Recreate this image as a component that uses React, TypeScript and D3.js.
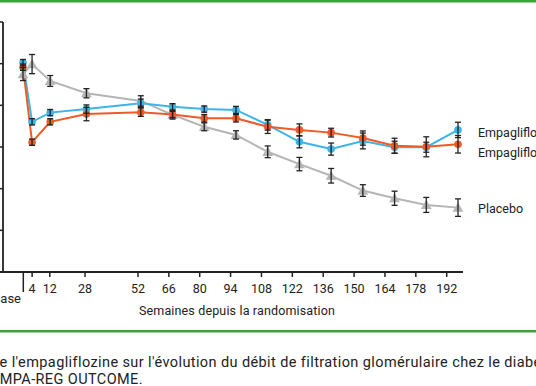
import React from 'react';
import * as d3 from 'd3';

// semaines depuis la randomisation (0 = base)
const weeks = [0, 4, 12, 28, 52, 66, 80, 94, 108, 122, 136, 150, 164, 178, 192];
const tickWeeks = [4, 12, 28, 52, 66, 80, 94, 108, 122, 136, 150, 164, 178, 192];
const yTicks = [66, 68, 70, 72, 74, 76, 78];

// DFG moyen
const empa10 = [76.05, 73.21, 73.65, 73.82, 74.1, 73.93, 73.82, 73.78, 73.06, 72.25, 71.9, 72.29, 71.99, 71.99, 72.82];
const empa10Err = [0.15, 0.15, 0.15, 0.2, 0.2, 0.15, 0.15, 0.17, 0.25, 0.29, 0.29, 0.38, 0.29, 0.24, 0.37];
const empa25 = [75.83, 72.23, 73.21, 73.58, 73.67, 73.56, 73.38, 73.38, 72.97, 72.82, 72.69, 72.43, 72.06, 72.01, 72.13];
const empa25Err = [0.15, 0.15, 0.15, 0.32, 0.2, 0.15, 0.18, 0.18, 0.32, 0.29, 0.21, 0.34, 0.36, 0.48, 0.42];
const placebo = [75.5, 75.98, 75.17, 74.58, 74.21, 73.54, 72.97, 72.58, 71.77, 71.18, 70.62, 69.91, 69.54, 69.22, 69.09];
const placeboErr = [0.31, 0.46, 0.26, 0.22, 0.25, 0.2, 0.19, 0.2, 0.28, 0.32, 0.35, 0.28, 0.34, 0.36, 0.42];

const FONT = 'Roboto, "Noto Sans", sans-serif';
const GREEN = '#3aa53a';

const series = [
  { name: 'Placebo', values: placebo, err: placeboErr, color: '#b5b5b5', shape: 'tri' },
  { name: 'Empagliflozine 10 mg', values: empa10, err: empa10Err, color: '#3db5e8', shape: 'dot' },
  { name: 'Empagliflozine 25 mg', values: empa25, err: empa25Err, color: '#f05a28', shape: 'dot' },
];

const legend = [
  { label: 'Empagliflozine 10 mg', y: 137 },
  { label: 'Empagliflozine 25 mg', y: 157 },
  { label: 'Placebo', y: 213 },
];

export default function App() {
  const width = 536;
  const height = 386;

  // les points sont un peu décalés par rapport aux graduations dans l'original
  const x = d3.scaleLinear().domain([0, 192]).range([23, 458]);
  const xAxis = d3.scaleLinear().domain([0, 192]).range([23.3, 446.7]);
  const y = d3.scaleLinear().domain([66, 78]).range([272, 22]);

  const line = d3.line<number>().x((d, i) => x(weeks[i])).y(d => y(d));
  const tri = d3.symbol().type(d3.symbolTriangle).size(50)();

  return (
    <svg width={width} height={height} style={{ position: 'absolute', left: 0, top: 0, background: '#fff' }} fontFamily={FONT}>
      <rect x={0} y={0} width={width} height={2.5} fill={GREEN} />

      {/* axe y */}
      <line x1={3} x2={3} y1={y(78)} y2={y(66)} stroke="#222" strokeWidth={1.8} />
      {yTicks.map(t => (
        <line key={t} x1={-2} x2={3} y1={y(t)} y2={y(t)} stroke="#222" strokeWidth={1.5} />
      ))}

      {/* axe x */}
      <line x1={0} x2={463} y1={y(66)} y2={y(66)} stroke="#222" strokeWidth={1.8} />
      <line x1={xAxis(0)} x2={xAxis(0)} y1={y(66)} y2={y(66) + 20} stroke="#222" strokeWidth={1.5} />
      {tickWeeks.map(t => (
        <g key={t}>
          <line x1={xAxis(t)} x2={xAxis(t)} y1={y(66)} y2={y(66) + 5} stroke="#222" strokeWidth={1.5} />
          <text x={xAxis(t)} y={y(66) + 21} textAnchor="middle" fontSize={12.5} fill="#222">{t}</text>
        </g>
      ))}
      <text x={21} y={303} textAnchor="end" fontSize={13} fill="#222">Base</text>
      <text x={237} y={315} textAnchor="middle" fontSize={12.5} letterSpacing={0.15} fill="#222">Semaines depuis la randomisation</text>

      {/* séries */}
      {series.map(s => (
        <path key={s.name + 'l'} d={line(s.values) || ''} fill="none" stroke={s.color} strokeWidth={2} />
      ))}
      {series.map(s => (
        <g key={s.name + 'm'}>
          {s.values.map((v, i) =>
            s.shape === 'tri' ? (
              <path key={i} d={tri || ''} transform={`translate(${x(weeks[i])},${y(v) + 1})`} fill={s.color} />
            ) : (
              <circle key={i} cx={x(weeks[i])} cy={y(v)} r={3.8} fill={s.color} />
            )
          )}
        </g>
      ))}
      {series.map(s => (
        <g key={s.name + 'e'} stroke="#222" strokeWidth={1.3}>
          {s.values.map((v, i) => {
            const cx = x(weeks[i]);
            const top = y(v + s.err[i]);
            const bot = y(v - s.err[i]);
            return (
              <g key={i}>
                <line x1={cx} x2={cx} y1={top} y2={bot} />
                <line x1={cx - 3} x2={cx + 3} y1={top} y2={top} />
                <line x1={cx - 3} x2={cx + 3} y1={bot} y2={bot} />
              </g>
            );
          })}
        </g>
      ))}

      {legend.map(l => (
        <text key={l.label} x={478} y={l.y} fontSize={12.5} fill="#222">{l.label}</text>
      ))}

      <rect x={0} y={330} width={width} height={2.5} fill={GREEN} />
      <text x={-9} y={367} fontSize={14.5} letterSpacing={0.4} fill="#222">
        de l'empagliflozine sur l'évolution du débit de filtration glomérulaire chez le diabétique de type 2
      </text>
      <text x={-9} y={383.5} fontSize={14.5} letterSpacing={0.4} fill="#222">EMPA-REG OUTCOME.</text>
    </svg>
  );
}
